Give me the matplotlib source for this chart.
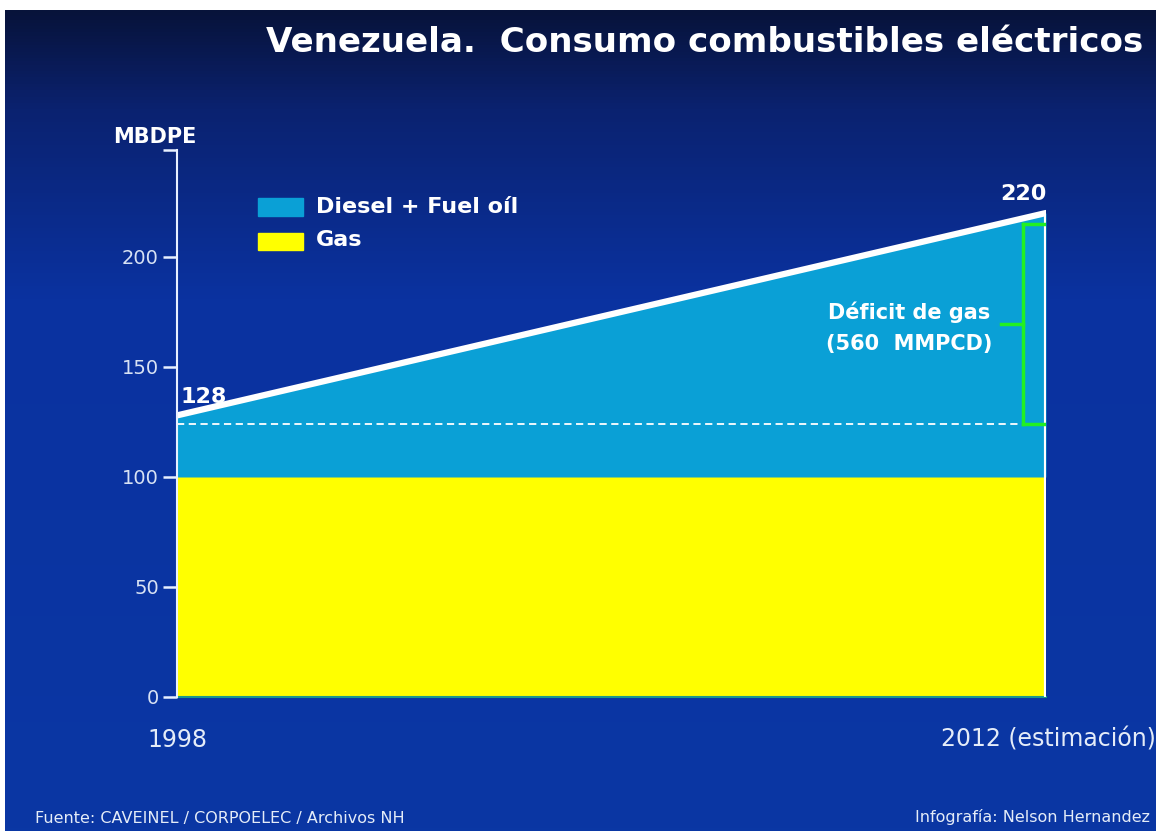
import numpy as np
import matplotlib.pyplot as plt
from matplotlib.colors import LinearSegmentedColormap

# data (MBDPE)
years = [1998, 2012]
total = [128, 220]          # diesel + fuel oil + gas
gas = [100, 100]
gas_ref = 124               # dashed reference level
deficit = (124, 215)        # green bracket range
year_labels = ['1998', '2012 (estimación)']
yticks = [0, 50, 100, 150, 200]

W, H = 1156, 831
fig = plt.figure(figsize=(W / 100, H / 100), dpi=100, facecolor='white')

# background gradient (slide)
bg = fig.add_axes([5 / W, 0, 1 - 5 / W, (H - 10) / H])
cmap = LinearSegmentedColormap.from_list(
    'bg', [(0.0, '#07133a'), (0.12, '#0b2270'), (0.35, '#0a32a0'), (1.0, '#0a37a4')])
grad = np.linspace(0, 1, 256).reshape(-1, 1)
bg.imshow(grad, aspect='auto', cmap=cmap, extent=[0, 1, 0, 1], origin='upper')
bg.set_axis_off()

ax_l, ax_r = 177 / W, 1046 / W
ax_b, ax_t = (H - 697) / H, (H - 150) / H
ax = fig.add_axes([ax_l, ax_b, ax_r - ax_l, ax_t - ax_b])
ax.patch.set_alpha(0)
ytop = (697 - 150) / 2.2
ax.set_xlim(years[0], years[1])
ax.set_ylim(0, ytop)

ax.fill_between(years, 0, gas, color='#ffff00', lw=0, zorder=2)
ax.fill_between(years, gas, total, color='#0aa0d6', lw=0, zorder=2)
ax.plot(years, total, color='white', lw=4.5, solid_capstyle='round', zorder=5)
ax.plot([years[1], years[1]], [0, total[1]], color='white', lw=3, zorder=5)
ax.plot([years[0], 2011.62], [gas_ref, gas_ref], color='white', lw=1.3,
        ls=(0, (4, 2.5)), zorder=4)

# green bracket
g = '#22f022'
xb = 2011.63
ax.plot([xb, xb], deficit, color=g, lw=2.5, zorder=6)
ax.plot([xb, 2011.97], [deficit[0]] * 2, color=g, lw=2.5, zorder=6)
ax.plot([xb, 2011.97], [deficit[1]] * 2, color=g, lw=2.5, zorder=6)
ax.plot([2011.27, xb], [np.mean(deficit)] * 2, color=g, lw=2.5, zorder=6)
ax.text(2009.8, 175, 'Déficit de gas', color='white', fontsize=15,
        fontweight='bold', ha='center', va='center', zorder=7)
ax.text(2009.8, 160.5, '(560  MMPCD)', color='white', fontsize=15,
        fontweight='bold', ha='center', va='center', zorder=7)

ax.text(1998.05, 136.5, str(total[0]), color='white', fontsize=16,
        fontweight='bold', ha='left', va='center', zorder=7)
ax.text(2011.64, 228.5, str(total[1]), color='white', fontsize=16,
        fontweight='bold', ha='center', va='center', zorder=7)

# spines / ticks
for s in ['top', 'right']:
    ax.spines[s].set_visible(False)
ax.spines['left'].set_color('#e8f0ff')
ax.spines['left'].set_linewidth(1.5)
ax.spines['left'].set_zorder(8)
ax.spines['bottom'].set_color('#1a9a8a')
ax.spines['bottom'].set_linewidth(1.5)
ax.set_yticks(yticks + [ytop])
ax.set_yticklabels([str(v) for v in yticks] + [''])
ax.tick_params(axis='y', length=10, width=1.8, color='#e8f0ff', pad=3,
               labelsize=14, labelcolor='#d8e2f4')
ax.set_xticks([])

fig.text(177 / W, 1 - 740 / H, year_labels[0], color='#e4ecf8', fontsize=17,
         ha='center', va='center')
fig.text(1156 / W, 1 - 740 / H, year_labels[1], color='#e4ecf8', fontsize=17,
         ha='right', va='center')

# legend
ax.add_patch(plt.Rectangle((258 / W, 1 - 216 / H), 45 / W, 18 / H,
                           transform=fig.transFigure, color='#0aa0d6', zorder=9,
                           clip_on=False))
ax.add_patch(plt.Rectangle((258 / W, 1 - 250 / H), 45 / W, 17 / H,
                           transform=fig.transFigure, color='#ffff00', zorder=9,
                           clip_on=False))
fig.text(316 / W, 1 - 207 / H, 'Diesel + Fuel oíl', color='white', fontsize=16,
         fontweight='bold', ha='left', va='center')
fig.text(316 / W, 1 - 240 / H, 'Gas', color='white', fontsize=16,
         fontweight='bold', ha='left', va='center')

# titles and notes
fig.text(1143 / W, 1 - 42 / H, 'Venezuela.  Consumo combustibles eléctricos',
         color='white', fontsize=24.6, fontweight='bold', ha='right', va='center')
fig.text(113 / W, 1 - 137 / H, 'MBDPE', color='white', fontsize=15,
         fontweight='bold', ha='left', va='center')
fig.text(35 / W, 1 - 818 / H, 'Fuente: CAVEINEL / CORPOELEC / Archivos NH',
         color='#e4ecf8', fontsize=11.5, ha='left', va='center')
fig.text(1150 / W, 1 - 817 / H, 'Infografía: Nelson Hernandez',
         color='#e4ecf8', fontsize=11.5, ha='right', va='center')

fig.savefig('out.png', dpi=100, facecolor='white')
